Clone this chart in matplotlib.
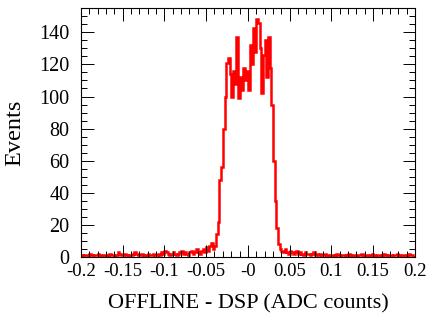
import numpy as np
import matplotlib
matplotlib.use("Agg")
import matplotlib.pyplot as plt
from matplotlib.ticker import MultipleLocator

# 200 bins from -0.2 to 0.2 (bin width 0.002)
x_lo, x_hi, n_bins = -0.2, 0.2, 200

counts = (
    # -0.199 .. -0.151
    [1, 0, 1, 1, 0, 2, 1, 0, 1, 1, 2, 1, 0, 1, 1, 0, 1, 2, 1, 1, 0, 1, 3, 2, 1]
    # -0.149 .. -0.101
    + [1, 2, 1, 0, 1, 1, 2, 3, 2, 1, 1, 2, 1, 0, 1, 2, 1, 1, 2, 1, 1, 2, 1, 3, 2]
    # -0.099 .. -0.051
    + [4, 3, 2, 1, 2, 3, 2, 1, 2, 3, 4, 2, 3, 2, 1, 3, 4, 2, 3, 5, 3, 2, 4, 5, 3]
    # -0.049 .. -0.039
    + [6, 4, 7, 9, 5, 7]
    # rising edge -0.037 .. -0.027
    + [14, 22, 48, 56, 80, 100]
    # plateau -0.025 .. 0.027
    + [121, 124, 114, 100, 116, 108, 137, 99, 112, 104, 118, 110, 116, 104,
       132, 120, 143, 128, 148, 146, 130, 102, 126, 135, 112, 137, 118]
    # falling edge 0.029 .. 0.039
    + [95, 60, 35, 18, 8, 5]
    # 0.041 .. 0.099
    + [4, 3, 5, 3, 2, 4, 3, 2, 3, 4, 2, 3, 2, 1, 3, 2, 2, 1, 2, 3,
       1, 2, 1, 2, 1, 1, 2, 1, 0, 1]
    # 0.101 .. 0.199
    + [1, 0, 1, 2, 1, 0, 1, 1, 0, 1, 2, 1, 0, 1, 1, 0, 1, 1, 2, 0,
       1, 1, 0, 1, 2, 1, 0, 1, 1, 0, 1, 2, 1, 0, 1, 1, 0, 1, 1, 2,
       1, 0, 1, 1, 0, 1, 2, 1, 1, 0]
)

x_ticks = [-0.2, -0.15, -0.1, -0.05, 0.0, 0.05, 0.1, 0.15, 0.2]
x_tick_labels = ["-0.2", "-0.15", "-0.1", "-0.05", "-0", "0.05", "0.1", "0.15", "0.2"]
y_ticks = [0, 20, 40, 60, 80, 100, 120, 140]

plt.rcParams["font.family"] = ["Liberation Serif", "DejaVu Serif"]

fig = plt.figure(figsize=(4.30, 3.18), dpi=100)
ax = fig.add_axes([0.188, 0.192, 0.777, 0.782])

edges = np.linspace(x_lo, x_hi, n_bins + 1)
ax.stairs(counts, edges, color="red", lw=1.8)

ax.set_xlim(x_lo, x_hi)
ax.set_ylim(0, 155)

ax.set_xticks(x_ticks)
ax.set_xticklabels(x_tick_labels)
ax.set_yticks(y_ticks)
ax.xaxis.set_minor_locator(MultipleLocator(0.01))
ax.yaxis.set_minor_locator(MultipleLocator(5))

ax.tick_params(which="both", direction="in", top=True, right=True,
               width=0.7, colors="black")
ax.tick_params(which="major", length=9)
ax.tick_params(which="minor", length=4.5)
ax.tick_params(axis="x", pad=4.5, labelsize=13.5)
ax.tick_params(axis="y", pad=8, labelsize=14.5)

for s in ax.spines.values():
    s.set_linewidth(0.8)

ax.set_xlabel("OFFLINE - DSP (ADC counts)", fontsize=16, labelpad=10)
ax.set_ylabel("Events", fontsize=17.5, labelpad=10)

fig.savefig("out.png", dpi=100)
